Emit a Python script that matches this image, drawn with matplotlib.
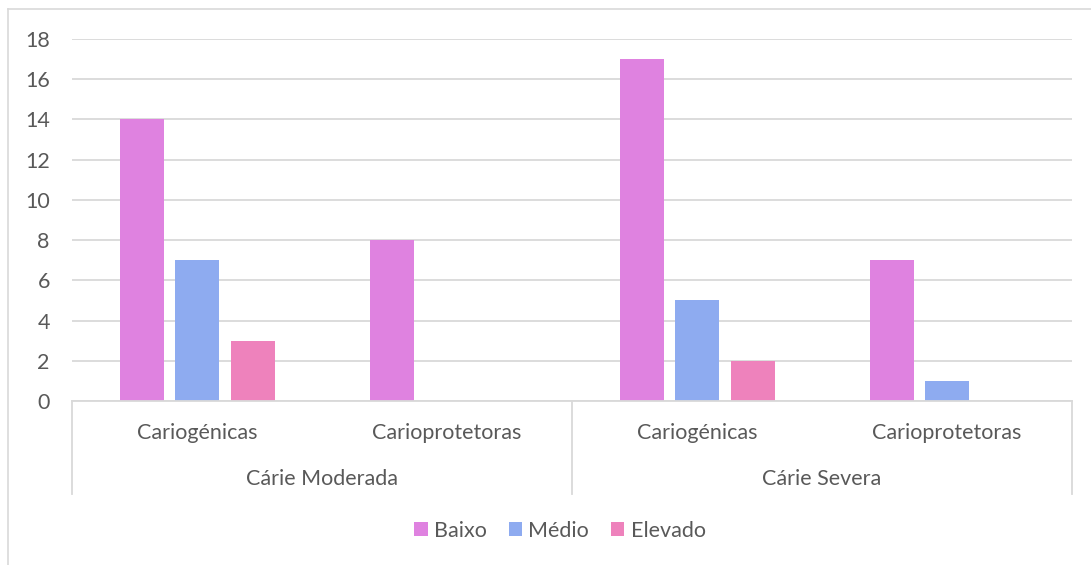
import matplotlib
matplotlib.use("Agg")
import matplotlib.pyplot as plt
import matplotlib.transforms as mtransforms
from matplotlib.patches import Patch
from matplotlib.lines import Line2D
import numpy as np

plt.rcParams['font.family'] = ['Lato', 'DejaVu Sans']

# Data
subcategories = ["Cariogénicas", "Carioprotetoras", "Cariogénicas", "Carioprotetoras"]
groups = ["Cárie Moderada", "Cárie Severa"]
series_names = ["Baixo", "Médio", "Elevado"]
baixo = [14, 8, 17, 7]
medio = [7, 0, 5, 1]
elevado = [3, 0, 2, 0]
yticks = [0, 2, 4, 6, 8, 10, 12, 14, 16, 18]

colors = ["#df82e0", "#8eabf0", "#ee82bc"]
text_color = "#595959"
line_color = "#d9d9d9"
fs = 15.5

W, H = 1091, 565
fig = plt.figure(figsize=(W / 100, H / 100), dpi=100)
fig.patch.set_facecolor("white")

# Outer chart frame (top and left edges visible)
fig.add_artist(Line2D([8 / W, 8 / W], [0, 1 - 9 / H], color=line_color, lw=1.2))
fig.add_artist(Line2D([8 / W, 1], [1 - 9 / H, 1 - 9 / H], color=line_color, lw=1.2))

ax_left, ax_right = 72 / W, 1072 / W
ax_top, ax_bottom = 1 - 39 / H, 1 - 401 / H
ax = fig.add_axes([ax_left, ax_bottom, ax_right - ax_left, ax_top - ax_bottom])

x = np.arange(len(subcategories))
offsets = [-0.222, 0.0, 0.222]
width = 0.176
for vals, off, c, name in zip([baixo, medio, elevado], offsets, colors, series_names):
    ax.bar(x + off, vals, width=width, color=c, label=name, zorder=3)

ax.set_xlim(-0.5, len(subcategories) - 0.5)
ax.set_ylim(0, 18)
ax.set_yticks(yticks)
ax.set_yticklabels([str(v) for v in yticks])
ax.tick_params(axis="y", length=0, pad=16, labelsize=fs, labelcolor=text_color)
ax.set_xticks([])
ax.grid(axis="y", color=line_color, lw=1.3, zorder=0)
for s in ["top", "right", "left"]:
    ax.spines[s].set_visible(False)
ax.spines["bottom"].set_color(line_color)
ax.spines["bottom"].set_linewidth(1.3)
ax.spines["bottom"].set_zorder(4)

trans = mtransforms.blended_transform_factory(ax.transData, ax.transAxes)
axis_h = 401 - 39
sub_y = -(433 - 401) / axis_h
grp_y = -(479 - 401) / axis_h
sep_y = -(494 - 401) / axis_h

for xi, lab in zip(x, subcategories):
    ax.text(xi, sub_y, lab, transform=trans, ha="center", va="center",
            fontsize=fs, color=text_color)

for gi, g in enumerate(groups):
    ax.text(2 * gi + 0.5, grp_y, g, transform=trans, ha="center", va="center",
            fontsize=fs, color=text_color)

for sx in [-0.5, 1.5, 3.5]:
    ax.plot([sx, sx], [0, sep_y], transform=trans, color=line_color, lw=1.3,
            clip_on=False)

handles = [Patch(facecolor=c, edgecolor="none") for c in colors]
fig.legend(handles, series_names, loc="center", bbox_to_anchor=(560 / W, 1 - 531 / H),
           ncol=3, frameon=False, fontsize=fs, handlelength=0.62, handleheight=0.62,
           handletextpad=0.3, columnspacing=1.0, labelcolor=text_color)

fig.savefig("out.png", dpi=100, facecolor="white")
